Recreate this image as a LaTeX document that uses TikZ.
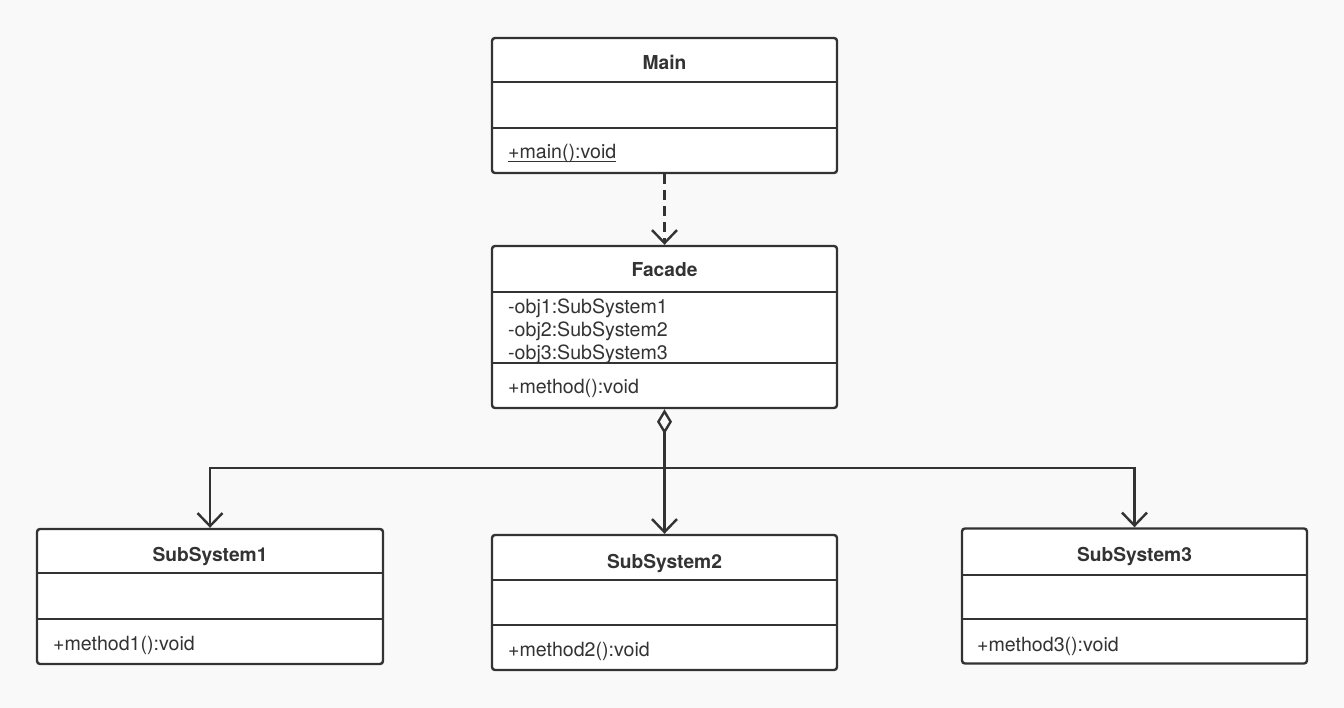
\documentclass[tikz,border=0pt]{standalone}
\usepackage{fontspec}
\setmainfont{TeX Gyre Heros}
\usetikzlibrary{arrows.meta}
\definecolor{bg}{HTML}{F9F9F9}
\definecolor{ink}{HTML}{333333}
\tikzset{
  umlbox/.style={draw=ink, line width=2.4pt, fill=white, rounded corners=3pt, inner sep=0pt},
  divider/.style={draw=ink, line width=2.4pt},
  title/.style={anchor=base, text=ink, font=\fontsize{19.2}{24}\selectfont\bfseries, inner sep=0pt},
  member/.style={anchor=base west, text=ink, font=\fontsize{19.6}{24}\selectfont, inner sep=0pt},
  conn/.style={draw=ink, line width=2.4pt},
  openhead/.style={-{Straight Barb[length=13pt,width=25pt,line width=2.4pt]}},
}
\begin{document}
\begin{tikzpicture}[x=1pt,y=-1pt]
\path[fill=bg] (0,0) rectangle (1344,708);
\useasboundingbox (0,0) rectangle (1344,708);

% Main
\node[umlbox, minimum width=345pt, minimum height=135pt] (main) at (664.5,105.5) {};
\draw[divider] (492,82) -- (837,82);
\draw[divider] (492,128) -- (837,128);
\node[title] (mainT) at (664.5,69.3) {Main};
\node[member] (mainM) at (508,159) {+main():void};
\draw[ink, line width=1pt] ([yshift=-2.5pt]mainM.base west) -- ([yshift=-2.5pt]mainM.base east);

% Facade
\node[umlbox, minimum width=345pt, minimum height=162pt] (facade) at (664.5,327) {};
\node[title] (facT) at (664.5,277) {Facade};
\node[member] (facA1) at (508,313.3) {-obj1:SubSystem1};
\node[member] (facA2) at (508,336.8) {-obj2:SubSystem2};
\node[member] (facA3) at (508,359.5) {-obj3:SubSystem3};
\node[member] (facM) at (508,394) {+method():void};
\draw[divider] (492,292) -- (837,292);
\draw[divider] (492,363) -- (837,363);

% SubSystem1
\node[umlbox, minimum width=346pt, minimum height=135pt] (ss1) at (210,596.5) {};
\draw[divider] (37,573) -- (383,573);
\draw[divider] (37,619) -- (383,619);
\node[title] (ss1T) at (210,561.7) {SubSystem1};
\node[member] (ss1M) at (53,650) {+method1():void};

% SubSystem2
\node[umlbox, minimum width=345pt, minimum height=135pt] (ss2) at (664.5,602.5) {};
\draw[divider] (492,580) -- (837,580);
\draw[divider] (492,625) -- (837,625);
\node[title] (ss2T) at (664.5,568) {SubSystem2};
\node[member] (ss2M) at (508,656) {+method2():void};

% SubSystem3
\node[umlbox, minimum width=345pt, minimum height=135pt] (ss3) at (1134.5,596) {};
\draw[divider] (962,575) -- (1307,575);
\draw[divider] (962,619) -- (1307,619);
\node[title] (ss3T) at (1134.5,561) {SubSystem3};
\node[member] (ss3M) at (977,651) {+method3():void};

% connectors
\draw[conn, openhead, dash pattern=on 10pt off 6pt] (main.south) -- (facade.north);
\draw[conn, {Diamond[open,length=25pt,width=15pt,line width=2.4pt]}-{Straight Barb[length=13pt,width=25pt,line width=2.4pt]}] (facade.south) -- (ss2.north);
\coordinate (j) at (664.5,468);
\draw[conn, openhead] (j) -| (ss1.north);
\draw[conn, openhead] (j) -| (ss3.north);
\end{tikzpicture}
\end{document}
